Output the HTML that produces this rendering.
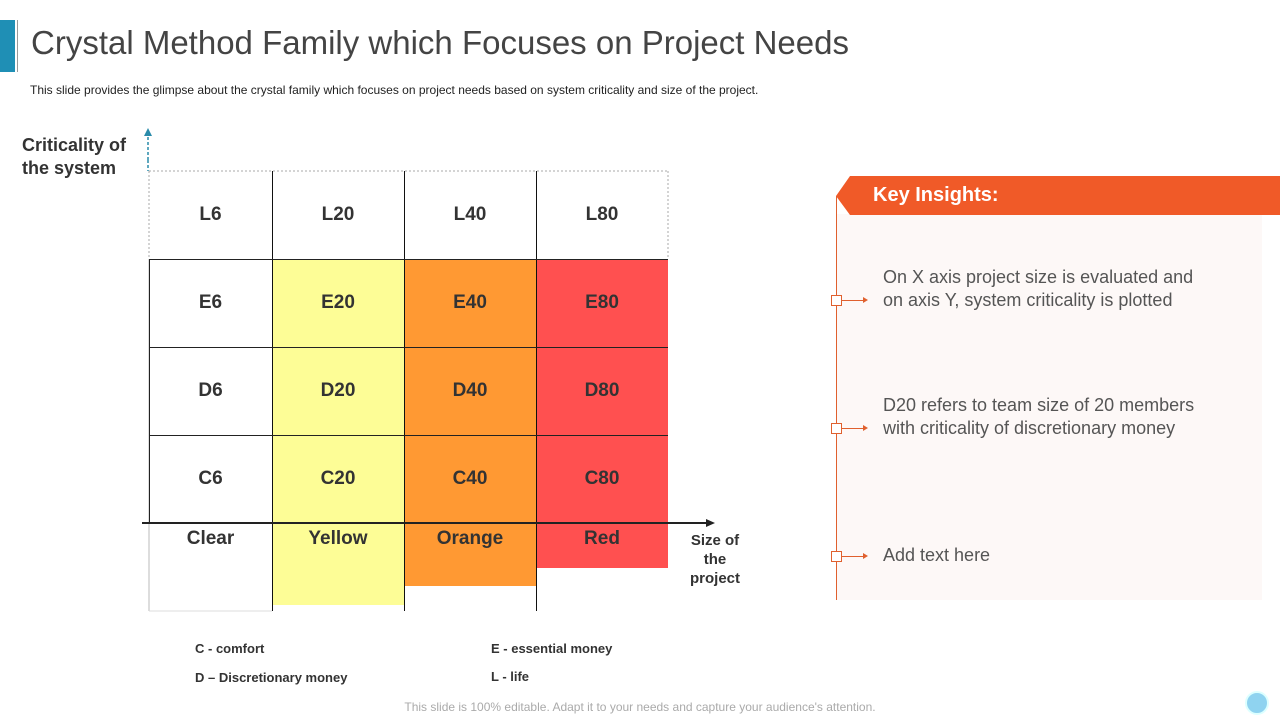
<!DOCTYPE html>
<html><head><meta charset="utf-8"><style>
body{margin:0;width:1280px;height:720px;position:relative;background:#fff;font-family:"Liberation Sans",sans-serif;overflow:hidden}
.a{position:absolute}
.cell{position:absolute;display:flex;align-items:center;justify-content:center;font-weight:bold;font-size:19px;color:#333}
.ins{position:absolute;left:883px;font-size:18px;color:#555;line-height:22.5px;width:320px}
.mk{position:absolute;left:831px;width:9px;height:9px;border:1px solid #E0602E;background:#fff}
.ar{position:absolute;left:842px;width:24px;height:1px;background:#E0602E}
.ar:after{content:"";position:absolute;right:-2px;top:-3px;border-left:5px solid #E0602E;border-top:3.5px solid transparent;border-bottom:3.5px solid transparent}
</style></head><body>
<div class="a" style="left:0;top:20px;width:15px;height:52px;background:#1F8FB5"></div>
<div class="a" style="left:17px;top:20px;width:1px;height:52px;background:#999"></div>
<div class="a" style="left:31px;top:24px;font-size:33px;color:#444">Crystal Method Family which Focuses on Project Needs</div>
<div class="a" style="left:30px;top:83px;font-size:12px;color:#222">This slide provides the glimpse about the crystal family which focuses on project needs based on system criticality and size of the project.</div>
<div class="a" style="left:22px;top:134px;font-size:18px;font-weight:bold;color:#333;line-height:23px">Criticality of<br>the system</div>
<div class="a" style="left:680px;top:531px;width:70px;text-align:center;font-size:15px;font-weight:bold;color:#333;line-height:19px">Size of<br>the<br>project</div>
<svg class="a" style="left:0;top:0" width="1280" height="720" id="grid"></svg>
<div id="cells"></div>
<div class="a" style="left:195px;top:641px;font-size:13px;font-weight:bold;color:#333">C - comfort</div>
<div class="a" style="left:195px;top:670px;font-size:13px;font-weight:bold;color:#333">D – Discretionary money</div>
<div class="a" style="left:491px;top:641px;font-size:13px;font-weight:bold;color:#333">E - essential money</div>
<div class="a" style="left:491px;top:669px;font-size:13px;font-weight:bold;color:#333">L - life</div>
<div class="a" style="left:837px;top:214px;width:425px;height:386px;background:#FDF8F7"></div>
<svg class="a" style="left:830px;top:176px" width="450" height="39"><polygon points="20,0 450,0 450,39 20,39 6,20" fill="#F05A28"/></svg>
<div class="a" style="left:873px;top:184px;font-size:20px;font-weight:bold;color:#fff">Key Insights:</div>
<div class="a" style="left:836px;top:196px;width:1px;height:404px;background:#E0602E"></div>
<div class="mk" style="top:295px"></div><div class="ar" style="top:300px"></div>
<div class="mk" style="top:423px"></div><div class="ar" style="top:428px"></div>
<div class="mk" style="top:551px"></div><div class="ar" style="top:556px"></div>
<div class="ins" style="top:266px">On X axis project size is evaluated and on axis Y, system criticality is plotted</div>
<div class="ins" style="top:394px">D20 refers to team size of 20 members with criticality of discretionary money</div>
<div class="ins" style="top:544px">Add text here</div>
<div class="a" style="left:0;width:1280px;top:700px;text-align:center;font-size:12px;color:#aaa">This slide is 100% editable. Adapt it to your needs and capture your audience's attention.</div>
<div class="a" style="left:1245px;top:691px;width:20px;height:20px;border-radius:50%;background:#8FD3F0;border:2px solid #dff"></div>
<script>
const columns=["Clear","Yellow","Orange","Red"];
const sizes=["6","20","40","80"];
const levels=["L","E","D","C"];
const colColors=["#ffffff","#FDFD96","#FF9933","#FF5050"];
const colBottoms=[611,605,586,568];
const xs=[149,272,404,536,668], ys=[171,259,347,435,523];
const NS="http://www.w3.org/2000/svg";
const g=document.getElementById('grid'), cells=document.getElementById('cells');
function rect(x,y,w,h,f){const r=document.createElementNS(NS,'rect');r.setAttribute('x',x);r.setAttribute('y',y);r.setAttribute('width',w);r.setAttribute('height',h);r.setAttribute('fill',f);


g.appendChild(r);}
function line(x1,y1,x2,y2,s,d,w){const l=document.createElementNS(NS,'line');l.setAttribute('x1',x1);l.setAttribute('y1',y1);l.setAttribute('x2',x2);l.setAttribute('y2',y2);l.setAttribute('stroke',s);l.setAttribute('stroke-width',w||1);if(d)l.setAttribute('stroke-dasharray',d);


g.appendChild(l);}
columns.forEach((c,i)=>{ if(i>0) rect(xs[i],ys[1],xs[i+1]-xs[i],colBottoms[i]-ys[1],colColors[i]); });
// top dotted
line(149,171,668,171,'#aaa','2,2');line(149,171,149,259,'#aaa','2,2');line(668,171,668,259,'#aaa','2,2');
line(149,259,149,611,'#bbb');line(149,611,272,611,'#ddd');
for(let i=1;i<4;i++) line(xs[i]+0.5,171,xs[i]+0.5,611,'#111');
for(let j=1;j<4;j++) line(149,ys[j]+0.5,668,ys[j]+0.5,'#222');
line(149.5,259,149.5,523,'#222');
// axes
line(148,160,148,171,'#2A8BAA','3,2',1.5);
const p=document.createElementNS(NS,'polygon');p.setAttribute('points','144,136 152,136 148,128');p.setAttribute('fill','#2A8BAA');


g.appendChild(p);
line(148,137,148,160,'#2A8BAA','3,2',1.5);
line(142,523,708,523,'#222',null,2);
const p2=document.createElementNS(NS,'polygon');p2.setAttribute('points','706,519 706,527 715,523');p2.setAttribute('fill','#222');


g.appendChild(p2);
levels.forEach((lv,j)=>sizes.forEach((s,i)=>{
 const d=document.createElement('div');d.className='cell';
 d.style.left=xs[i]+'px';d.style.top=ys[j]+'px';d.style.width=(xs[i+1]-xs[i])+'px';d.style.height=(ys[j+1]-ys[j])+'px';
 d.textContent=lv+s;
 
 
 cells.appendChild(d);}));
columns.forEach((c,i)=>{const d=document.createElement('div');d.className='cell';
 d.style.left=xs[i]+'px';d.style.top='527px';d.style.width=(xs[i+1]-xs[i])+'px';d.style.height='24px';d.textContent=c;
 
 
 cells.appendChild(d);});
</script>
</body></html>
